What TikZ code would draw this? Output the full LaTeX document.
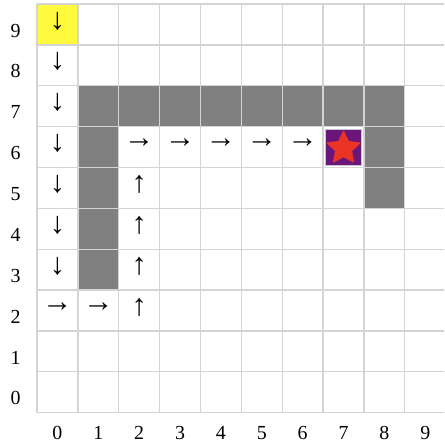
\documentclass[tikz,border=0pt]{standalone}
\usepackage{fontspec}
\setmainfont{Liberation Serif}
\definecolor{gridc}{RGB}{212,212,212}
\definecolor{wallc}{RGB}{128,128,128}
\definecolor{startc}{RGB}{255,250,62}
\definecolor{goalc}{RGB}{108,22,124}
\definecolor{starc}{RGB}{234,52,38}
\tikzset{
  wall/.style={fill=wallc, draw=none},
  arr/.style={inner sep=0pt, font=\fontsize{26}{26}\selectfont, yshift=3pt},
  lab/.style={inner sep=0pt, font=\fontsize{17}{17}\selectfont},
}
\begin{document}
\begin{tikzpicture}[x=0.03cm,y=-0.03cm]
\useasboundingbox (0,0) rectangle (444,444);
\fill[white] (0,0) rectangle (444,444);
\clip (0,0) rectangle (444,444);
\begin{scope}[shift={(37,4)}, x=1.2261cm, y=-1.2261cm]
  % start
  \fill[startc] (0,0) rectangle (1,1);
  % walls
  \foreach \i in {1,...,8} { \fill[wall] (\i,2) rectangle ++(1,1); }
  \foreach \r in {3,4,5,6} { \fill[wall] (1,\r) rectangle ++(1,1); }
  \foreach \r in {3,4} { \fill[wall] (8,\r) rectangle ++(1,1); }
  % grid
  \foreach \k in {0,...,10} {
    \draw[gridc, line width=1.1pt] (\k,0) -- (\k,10);
    \draw[gridc, line width=1.1pt] (0,\k) -- (10,\k);
  }
  % goal
  \fill[goalc, draw=gray!45, line width=0.5pt] (7.054,3.054) rectangle (7.946,3.946);
  \coordinate (goal) at (7.5,3.53);
  \filldraw[starc, line join=round, line width=1.2pt, shift={(goal)}]
    (-90:0.41) -- (-54:0.2) -- (-18:0.41) -- (18:0.2) -- (54:0.41) --
    (90:0.2) -- (126:0.41) -- (162:0.2) -- (198:0.41) -- (234:0.2) -- cycle;
  % arrows
  \foreach \r in {0,...,6} { \node[arr] (d\r) at (0.5,\r+0.5) {↓}; }
  \node[arr] (r07) at (0.5,7.5) {→};
  \node[arr] (r17) at (1.5,7.5) {→};
  \foreach \r in {4,...,7} { \node[arr] (u\r) at (2.5,\r+0.5) {↑}; }
  \foreach \i in {2,...,6} { \node[arr] (h\i) at (\i+0.5,3.5) {→}; }
  % labels
  \foreach \k in {0,...,9} {
    \node[lab] (x\k) at (\k+0.5,10.5) {\k};
    \pgfmathtruncatemacro\rr{9-\k}
    \node[lab] (y\k) at (-0.526,\rr+0.65) {\k};
  }
\end{scope}
\end{tikzpicture}
\end{document}
